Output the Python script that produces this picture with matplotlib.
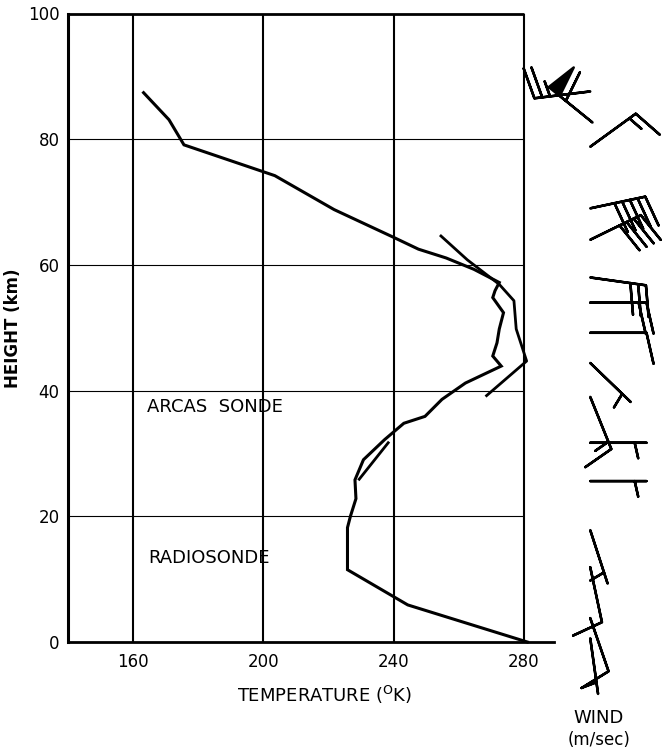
import numpy as np
import matplotlib
matplotlib.use("Agg")
import matplotlib.pyplot as plt

# ─── temperature soundings (deg K vs km) ───
arcas_T = [163.2, 171.0, 175.6, 203.5, 221.7, 239.9, 247.6, 256.1, 264.6, 272.4,
           271.1, 270.4, 273.7, 272.4, 271.7, 270.4, 273.0, 262.0, 254.8, 249.6,
           243.1, 237.2, 230.7, 228.1, 228.4, 226.7, 225.8, 225.8, 244.3, 281.0]
arcas_h = [87.4, 83.1, 79.1, 74.2, 68.8, 64.4, 62.5, 61.1, 59.3, 57.2,
           55.9, 54.8, 52.4, 49.8, 47.6, 45.5, 43.9, 41.2, 38.6, 35.9,
           34.8, 32.2, 29.0, 25.8, 22.8, 20.0, 18.2, 11.5, 5.9, 0.0]

second_T = [254.5, 262.6, 272.4, 276.9, 277.6, 280.8, 268.5]
second_h = [64.6, 60.8, 56.9, 54.3, 49.8, 44.7, 39.2]

loop_T = [238.3, 229.4]
loop_h = [31.7, 25.9]

# ─── winds: height (km), direction from (deg), speed (m/sec) ───
wind_h   = [87.6, 78.8, 69.0, 64.0, 58.0, 54.0, 49.2, 44.4, 39.0, 31.7, 25.6,
            17.8, 11.9, 3.8, 0.6]
wind_dir = [263, 54, 78, 64, 98, 90, 90, 134, 158, 90, 90,
            162, 168, 161, 172]
wind_spd = [25, 15, 50, 40, 30, 20, 10, 5, 15, 5, 5,
            5, 10, 10, 5]

flag_h = [82.7]
flag_dir = [309]
flag_spd = [60]

xticks = [160, 200, 240, 280]
yticks = [0, 20, 40, 60, 80, 100]

plt.rcParams['font.family'] = ['DejaVu Sans']

fig = plt.figure(figsize=(6.66, 7.53), dpi=100)
ax = fig.add_axes([68 / 666, 1 - 642 / 753, (554 - 68) / 666, (642 - 13.5) / 753])

ax.set_xlim(140, 289.2)
ax.set_ylim(0, 100)

# frame / grid
ax.vlines(xticks, 0, 100, color='black', lw=1.5, zorder=1)
ax.hlines([20, 40, 60, 80], 140, 280, color='black', lw=0.8, zorder=1)
ax.hlines(100, 140, 280, color='black', lw=2.0, zorder=1, clip_on=False)
for s in ['top', 'right']:
    ax.spines[s].set_visible(False)
ax.spines['left'].set_linewidth(2.2)
ax.spines['bottom'].set_linewidth(2.0)

ax.plot(arcas_T, arcas_h, color='black', lw=2.2, solid_joinstyle='miter',
        zorder=3, clip_on=False)
ax.plot(second_T, second_h, color='black', lw=2.0, zorder=3)
ax.plot(loop_T, loop_h, color='black', lw=2.0, zorder=3)

ax.set_xticks(xticks)
ax.set_yticks(yticks)
ax.tick_params(length=0, labelsize=12)
ax.tick_params(axis='x', pad=8)
ax.tick_params(axis='y', pad=6)

ax.set_xlabel('TEMPERATURE ($^{\\rm O}$K)', fontsize=13)
ax.xaxis.set_label_coords(0.527, -0.066)
ax.set_ylabel('HEIGHT (km)', fontsize=12, fontweight='bold')
ax.yaxis.set_label_coords(-0.094, 0.5)

ax.text(164.3, 37.4, 'ARCAS  SONDE', fontsize=13, va='center', ha='left')
ax.text(164.6, 13.4, 'RADIOSONDE', fontsize=13, va='center', ha='left')

# ─── wind barbs column ───
axw = fig.add_axes([527 / 666, 1 - 642 / 753, (666 - 527) / 666, (642 - 13.5) / 753])
axw.set_xlim(0, 1)
axw.set_ylim(0, 100)
axw.axis('off')

def uv(d, s):
    r = np.deg2rad(np.asarray(d, float))
    s = np.asarray(s, float)
    return -s * np.sin(r), -s * np.cos(r)

u, v = uv(wind_dir, wind_spd)
axw.barbs(np.full(len(wind_h), 0.455), wind_h, u, v, length=9, pivot='tip',
          barb_increments=dict(half=5, full=10, flag=100),
          sizes=dict(emptybarb=0, spacing=0.14, height=0.55, width=0.25),
          lw=1.8, color='black', clip_on=False)
u2, v2 = uv(flag_dir, flag_spd)
axw.barbs([0.465], flag_h, u2, v2, length=9, pivot='tip',
          barb_increments=dict(half=5, full=10, flag=50),
          sizes=dict(spacing=0.14, height=0.55, width=0.25),
          lw=1.8, color='black', clip_on=False)

fig.text(599 / 666, 1 - 718 / 753, 'WIND', fontsize=13, ha='center', va='center')
fig.text(599 / 666, 1 - 740 / 753, '(m/sec)', fontsize=12, ha='center', va='center')

fig.savefig('out.png', dpi=100)
